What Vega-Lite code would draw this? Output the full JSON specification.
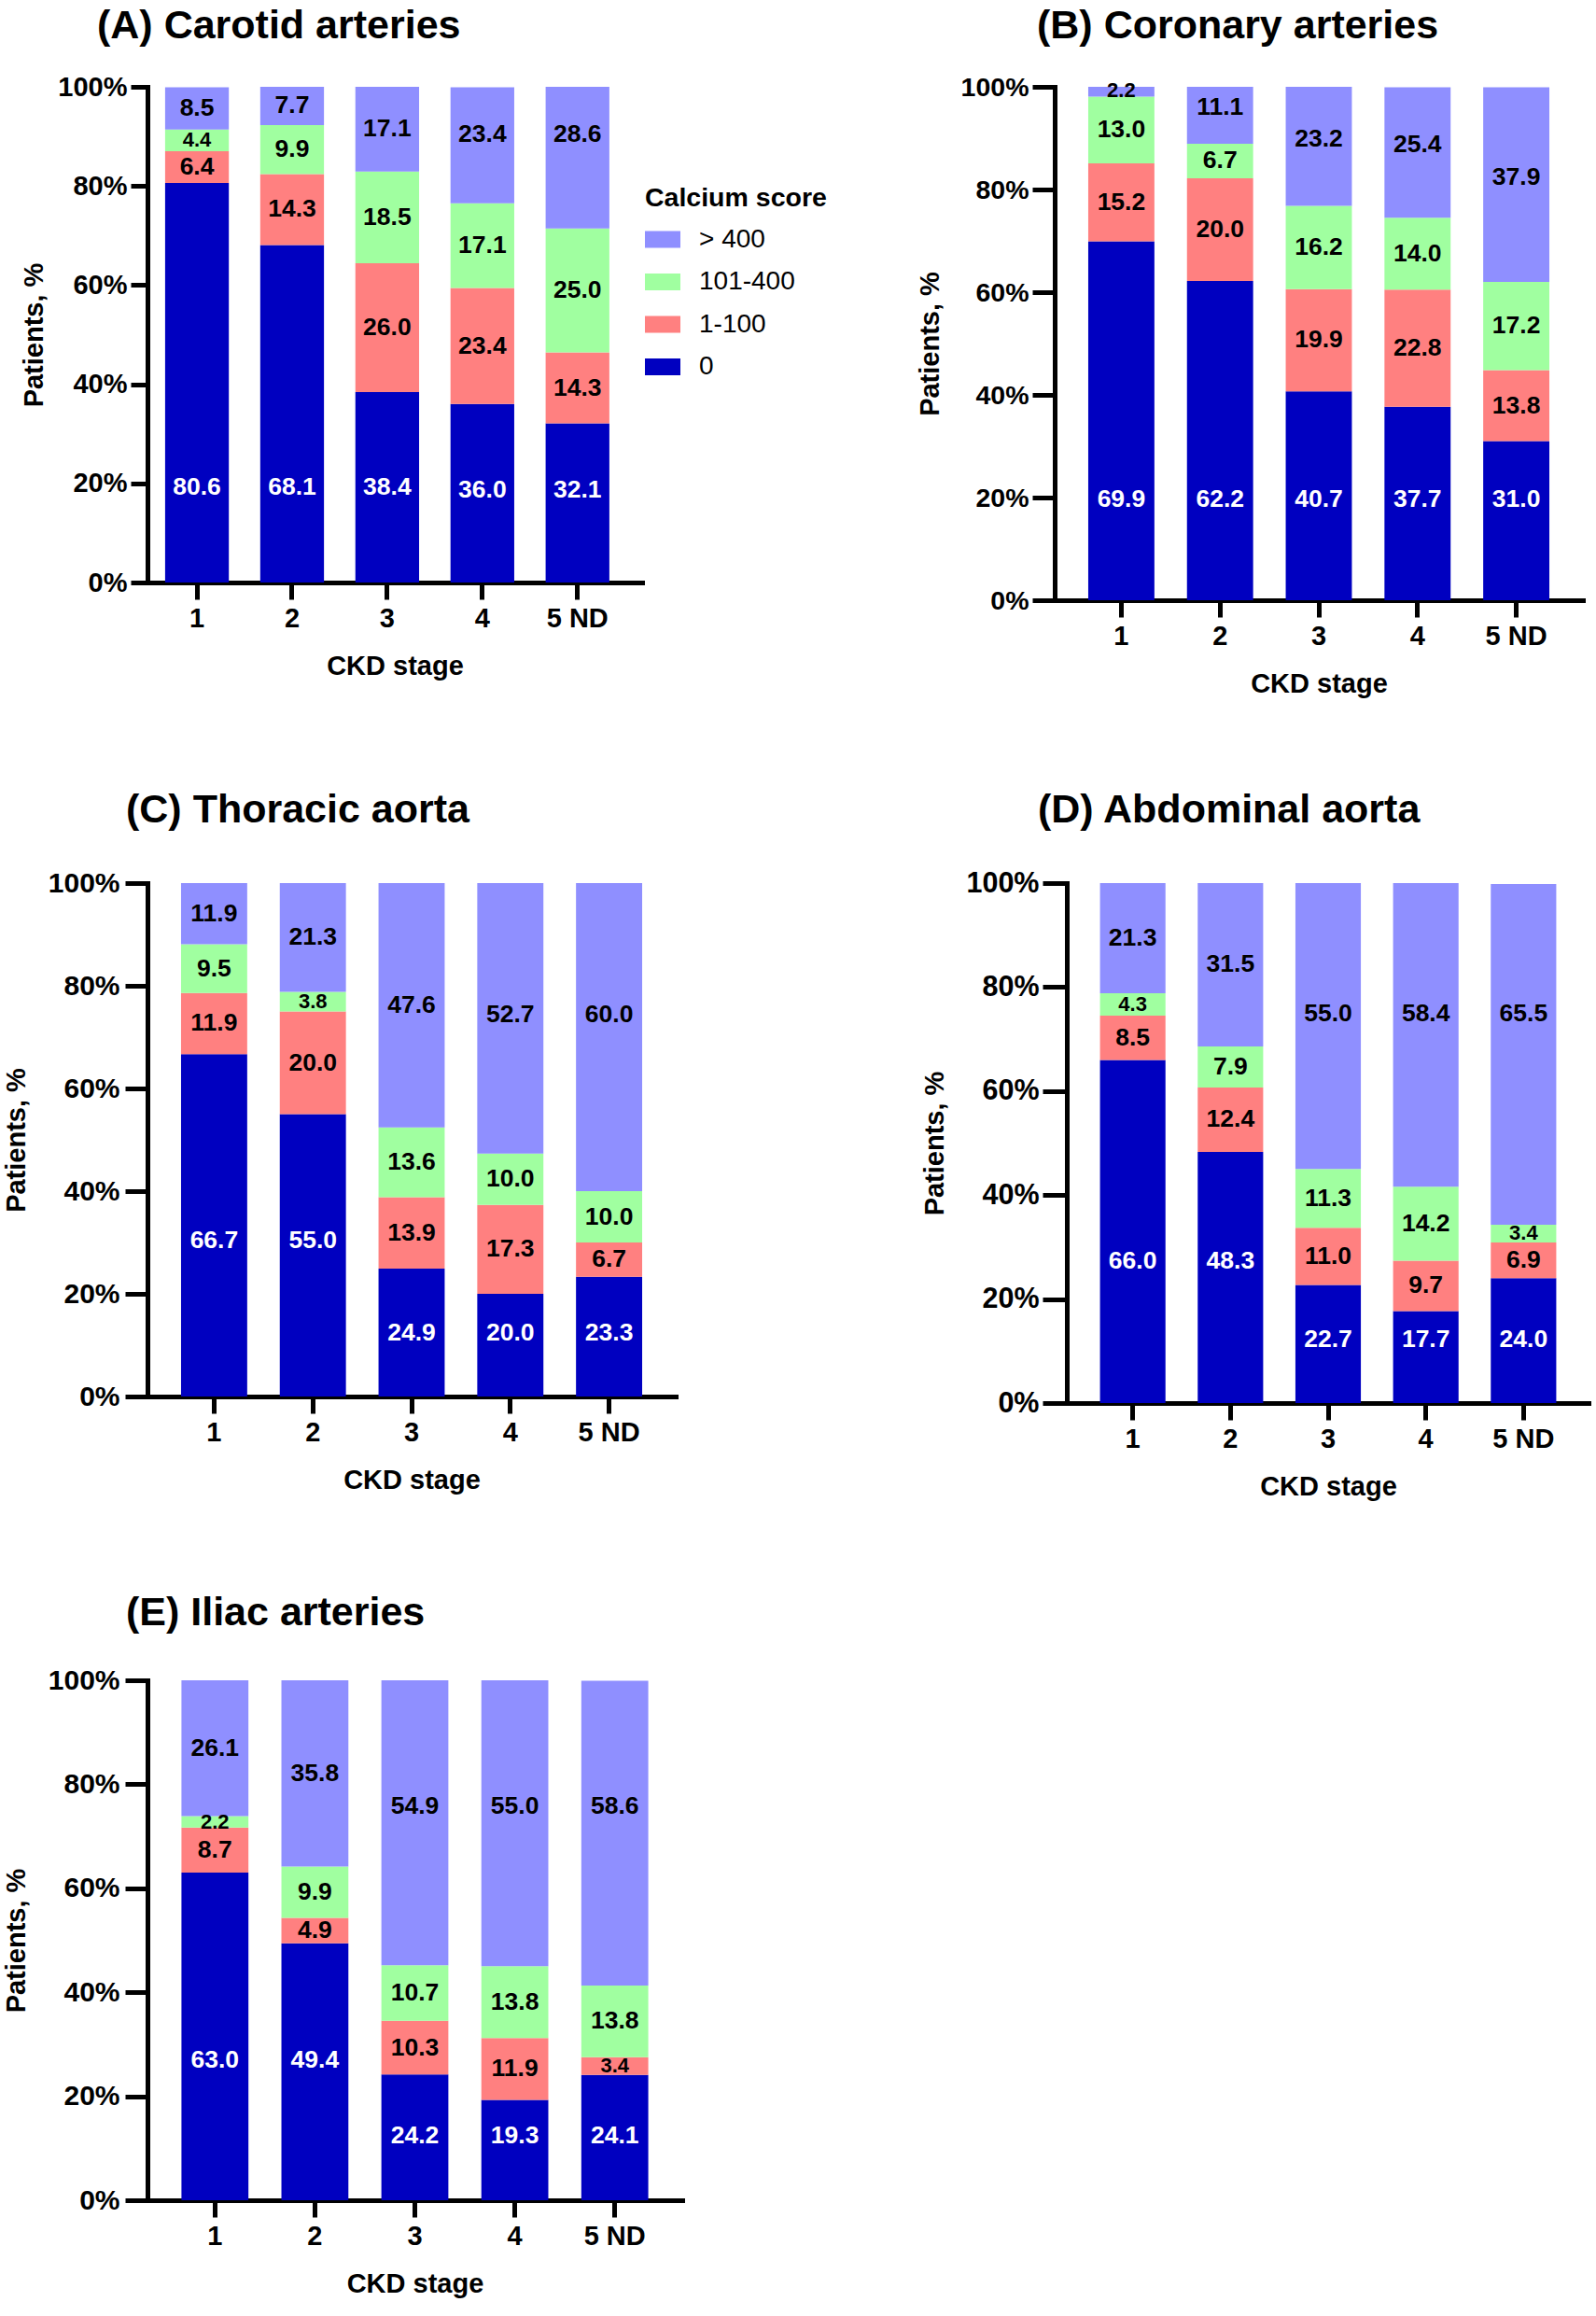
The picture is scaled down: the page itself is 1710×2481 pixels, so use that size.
{
  "$schema": "https://vega.github.io/schema/vega-lite/v6.json",
  "background": "white",
  "padding": {"left": 3, "top": 7, "right": 2, "bottom": 2},
  "datasets": {
    "cac": [
      {"panel": "A", "stage": "1", "score": "0", "value": 80.6},
      {"panel": "A", "stage": "1", "score": "1-100", "value": 6.4},
      {"panel": "A", "stage": "1", "score": "101-400", "value": 4.4},
      {"panel": "A", "stage": "1", "score": "> 400", "value": 8.5},
      {"panel": "A", "stage": "2", "score": "0", "value": 68.1},
      {"panel": "A", "stage": "2", "score": "1-100", "value": 14.3},
      {"panel": "A", "stage": "2", "score": "101-400", "value": 9.9},
      {"panel": "A", "stage": "2", "score": "> 400", "value": 7.7},
      {"panel": "A", "stage": "3", "score": "0", "value": 38.4},
      {"panel": "A", "stage": "3", "score": "1-100", "value": 26.0},
      {"panel": "A", "stage": "3", "score": "101-400", "value": 18.5},
      {"panel": "A", "stage": "3", "score": "> 400", "value": 17.1},
      {"panel": "A", "stage": "4", "score": "0", "value": 36.0},
      {"panel": "A", "stage": "4", "score": "1-100", "value": 23.4},
      {"panel": "A", "stage": "4", "score": "101-400", "value": 17.1},
      {"panel": "A", "stage": "4", "score": "> 400", "value": 23.4},
      {"panel": "A", "stage": "5 ND", "score": "0", "value": 32.1},
      {"panel": "A", "stage": "5 ND", "score": "1-100", "value": 14.3},
      {"panel": "A", "stage": "5 ND", "score": "101-400", "value": 25.0},
      {"panel": "A", "stage": "5 ND", "score": "> 400", "value": 28.6},

      {"panel": "B", "stage": "1", "score": "0", "value": 69.9},
      {"panel": "B", "stage": "1", "score": "1-100", "value": 15.2},
      {"panel": "B", "stage": "1", "score": "101-400", "value": 13.0},
      {"panel": "B", "stage": "1", "score": "> 400", "value": 2.2},
      {"panel": "B", "stage": "2", "score": "0", "value": 62.2},
      {"panel": "B", "stage": "2", "score": "1-100", "value": 20.0},
      {"panel": "B", "stage": "2", "score": "101-400", "value": 6.7},
      {"panel": "B", "stage": "2", "score": "> 400", "value": 11.1},
      {"panel": "B", "stage": "3", "score": "0", "value": 40.7},
      {"panel": "B", "stage": "3", "score": "1-100", "value": 19.9},
      {"panel": "B", "stage": "3", "score": "101-400", "value": 16.2},
      {"panel": "B", "stage": "3", "score": "> 400", "value": 23.2},
      {"panel": "B", "stage": "4", "score": "0", "value": 37.7},
      {"panel": "B", "stage": "4", "score": "1-100", "value": 22.8},
      {"panel": "B", "stage": "4", "score": "101-400", "value": 14.0},
      {"panel": "B", "stage": "4", "score": "> 400", "value": 25.4},
      {"panel": "B", "stage": "5 ND", "score": "0", "value": 31.0},
      {"panel": "B", "stage": "5 ND", "score": "1-100", "value": 13.8},
      {"panel": "B", "stage": "5 ND", "score": "101-400", "value": 17.2},
      {"panel": "B", "stage": "5 ND", "score": "> 400", "value": 37.9},

      {"panel": "C", "stage": "1", "score": "0", "value": 66.7},
      {"panel": "C", "stage": "1", "score": "1-100", "value": 11.9},
      {"panel": "C", "stage": "1", "score": "101-400", "value": 9.5},
      {"panel": "C", "stage": "1", "score": "> 400", "value": 11.9},
      {"panel": "C", "stage": "2", "score": "0", "value": 55.0},
      {"panel": "C", "stage": "2", "score": "1-100", "value": 20.0},
      {"panel": "C", "stage": "2", "score": "101-400", "value": 3.8},
      {"panel": "C", "stage": "2", "score": "> 400", "value": 21.3},
      {"panel": "C", "stage": "3", "score": "0", "value": 24.9},
      {"panel": "C", "stage": "3", "score": "1-100", "value": 13.9},
      {"panel": "C", "stage": "3", "score": "101-400", "value": 13.6},
      {"panel": "C", "stage": "3", "score": "> 400", "value": 47.6},
      {"panel": "C", "stage": "4", "score": "0", "value": 20.0},
      {"panel": "C", "stage": "4", "score": "1-100", "value": 17.3},
      {"panel": "C", "stage": "4", "score": "101-400", "value": 10.0},
      {"panel": "C", "stage": "4", "score": "> 400", "value": 52.7},
      {"panel": "C", "stage": "5 ND", "score": "0", "value": 23.3},
      {"panel": "C", "stage": "5 ND", "score": "1-100", "value": 6.7},
      {"panel": "C", "stage": "5 ND", "score": "101-400", "value": 10.0},
      {"panel": "C", "stage": "5 ND", "score": "> 400", "value": 60.0},

      {"panel": "D", "stage": "1", "score": "0", "value": 66.0},
      {"panel": "D", "stage": "1", "score": "1-100", "value": 8.5},
      {"panel": "D", "stage": "1", "score": "101-400", "value": 4.3},
      {"panel": "D", "stage": "1", "score": "> 400", "value": 21.3},
      {"panel": "D", "stage": "2", "score": "0", "value": 48.3},
      {"panel": "D", "stage": "2", "score": "1-100", "value": 12.4},
      {"panel": "D", "stage": "2", "score": "101-400", "value": 7.9},
      {"panel": "D", "stage": "2", "score": "> 400", "value": 31.5},
      {"panel": "D", "stage": "3", "score": "0", "value": 22.7},
      {"panel": "D", "stage": "3", "score": "1-100", "value": 11.0},
      {"panel": "D", "stage": "3", "score": "101-400", "value": 11.3},
      {"panel": "D", "stage": "3", "score": "> 400", "value": 55.0},
      {"panel": "D", "stage": "4", "score": "0", "value": 17.7},
      {"panel": "D", "stage": "4", "score": "1-100", "value": 9.7},
      {"panel": "D", "stage": "4", "score": "101-400", "value": 14.2},
      {"panel": "D", "stage": "4", "score": "> 400", "value": 58.4},
      {"panel": "D", "stage": "5 ND", "score": "0", "value": 24.0},
      {"panel": "D", "stage": "5 ND", "score": "1-100", "value": 6.9},
      {"panel": "D", "stage": "5 ND", "score": "101-400", "value": 3.4},
      {"panel": "D", "stage": "5 ND", "score": "> 400", "value": 65.5},

      {"panel": "E", "stage": "1", "score": "0", "value": 63.0},
      {"panel": "E", "stage": "1", "score": "1-100", "value": 8.7},
      {"panel": "E", "stage": "1", "score": "101-400", "value": 2.2},
      {"panel": "E", "stage": "1", "score": "> 400", "value": 26.1},
      {"panel": "E", "stage": "2", "score": "0", "value": 49.4},
      {"panel": "E", "stage": "2", "score": "1-100", "value": 4.9},
      {"panel": "E", "stage": "2", "score": "101-400", "value": 9.9},
      {"panel": "E", "stage": "2", "score": "> 400", "value": 35.8},
      {"panel": "E", "stage": "3", "score": "0", "value": 24.2},
      {"panel": "E", "stage": "3", "score": "1-100", "value": 10.3},
      {"panel": "E", "stage": "3", "score": "101-400", "value": 10.7},
      {"panel": "E", "stage": "3", "score": "> 400", "value": 54.9},
      {"panel": "E", "stage": "4", "score": "0", "value": 19.3},
      {"panel": "E", "stage": "4", "score": "1-100", "value": 11.9},
      {"panel": "E", "stage": "4", "score": "101-400", "value": 13.8},
      {"panel": "E", "stage": "4", "score": "> 400", "value": 55.0},
      {"panel": "E", "stage": "5 ND", "score": "0", "value": 24.1},
      {"panel": "E", "stage": "5 ND", "score": "1-100", "value": 3.4},
      {"panel": "E", "stage": "5 ND", "score": "101-400", "value": 13.8},
      {"panel": "E", "stage": "5 ND", "score": "> 400", "value": 58.6}
    ]
  },
  "spacing": 100,
  "align": "none",
  "resolve": {"scale": {"color": "independent"}, "legend": {"color": "independent"}},
  "vconcat": [
    {
      "spacing": 96,
      "resolve": {"scale": {"color": "independent"}, "legend": {"color": "independent"}},
      "hconcat": [
        {
          "width": 530, "height": 531,
          "data": {"name": "cac"},
          "title": {"text": "(A) Carotid arteries", "dx": -54, "offset": 29},
          "transform": [
            {"filter": "datum.panel == 'A'"},
            {"stack": "value", "groupby": ["stage"], "sort": [{"field": "score", "order": "ascending"}], "as": ["v0", "v1"]},
            {"calculate": "(datum.v0 + datum.v1) / 2", "as": "m"},
            {"calculate": "datum.score == '0' ? (datum.v1 >= 40 ? 19.2 : clamp(datum.m, 18.6, 19.2)) : datum.score == '> 400' ? max(datum.m, 90.4) : datum.m", "as": "ly"}
          ],
          "encoding": {
            "x": {"field": "stage", "type": "nominal", "sort": ["1", "2", "3", "4", "5 ND"], "scale": {"paddingInner": 0.33, "paddingOuter": 0.265, "align": 0.35}, "axis": {"title": "CKD stage"}}
          },
          "layer": [
            {
              "mark": {"type": "bar", "clip": true},
              "encoding": {
                "y": {"field": "v0", "type": "quantitative", "scale": {"domain": [0, 100]}, "axis": {"values": [0, 20, 40, 60, 80, 100], "labelExpr": "datum.value + '%'", "title": "Patients, %", "tickSize": 18, "labelPadding": 4, "titlePadding": 10, "labelFontSize": 29}},
                "y2": {"field": "v1"},
                "color": {"field": "score", "type": "nominal",
                  "scale": {"domain": ["> 400", "101-400", "1-100", "0"], "range": ["#8F8FFF", "#A0FFA0", "#FF8080", "#0000C0"]},
                  "legend": {"orient": "none", "legendX": 533, "legendY": 105, "title": "Calcium score", "titleLimit": 600, "titleFontSize": 28.5, "titleFont": "Liberation Sans", "titleFontWeight": "bold", "titleColor": "black", "titlePadding": 11, "labelFontSize": 28, "labelLimit": 400, "labelFont": "Liberation Sans", "labelColor": "black", "labelFontWeight": "normal", "symbolType": "M-1,-0.47H1V0.47H-1Z", "symbolSize": 1444, "symbolStrokeWidth": 0, "symbolOpacity": 1, "labelOffset": 20, "rowPadding": 12.5, "padding": 0}}
              }
            },
            {
              "mark": {"type": "text", "fontWeight": "bold", "font": "Liberation Sans", "baseline": "middle", "align": "center"},
              "encoding": {
                "y": {"field": "ly", "type": "quantitative"},
                "text": {"field": "value", "type": "quantitative", "format": ".1f"},
                "color": {"condition": {"test": "datum.score == '0'", "value": "white"}, "value": "black"},
                "size": {"condition": {"test": "datum.value < 4.5", "value": 22}, "value": 26.5}
              }
            }
          ]
        },
        {
          "width": 566, "height": 550,
          "data": {"name": "cac"},
          "title": {"text": "(B) Coronary arteries", "dx": -19, "offset": 29},
          "transform": [
            {"filter": "datum.panel == 'B'"},
            {"stack": "value", "groupby": ["stage"], "sort": [{"field": "score", "order": "ascending"}], "as": ["v0", "v1"]},
            {"calculate": "(datum.v0 + datum.v1) / 2", "as": "m"},
            {"calculate": "datum.score == '0' ? 19.7 : datum.score == '> 400' ? min(datum.m + 1.5, 99.2) : datum.m", "as": "ly"}
          ],
          "encoding": {
            "x": {"field": "stage", "type": "nominal", "sort": ["1", "2", "3", "4", "5 ND"], "scale": {"paddingInner": 0.33, "paddingOuter": 0.34}, "axis": {"title": "CKD stage"}}
          },
          "layer": [
            {
              "mark": {"type": "bar", "clip": true},
              "encoding": {
                "y": {"field": "v0", "type": "quantitative", "scale": {"domain": [0, 100]}, "axis": {"values": [0, 20, 40, 60, 80, 100], "labelExpr": "datum.value + '%'", "title": "Patients, %", "tickSize": 24, "labelPadding": 4, "titlePadding": 18, "labelFontSize": 28.5}},
                "y2": {"field": "v1"},
                "color": {"field": "score", "type": "nominal",
                  "scale": {"domain": ["> 400", "101-400", "1-100", "0"], "range": ["#8F8FFF", "#A0FFA0", "#FF8080", "#0000C0"]},
                  "legend": null}
              }
            },
            {
              "mark": {"type": "text", "fontWeight": "bold", "font": "Liberation Sans", "baseline": "middle", "align": "center"},
              "encoding": {
                "y": {"field": "ly", "type": "quantitative"},
                "text": {"field": "value", "type": "quantitative", "format": ".1f"},
                "color": {"condition": {"test": "datum.score == '0'", "value": "white"}, "value": "black"},
                "size": {"condition": {"test": "datum.value < 4.5", "value": 22}, "value": 26.5}
              }
            }
          ]
        }
      ]
    },
    {
      "spacing": 263,
      "resolve": {"scale": {"color": "independent"}, "legend": {"color": "independent"}},
      "hconcat": [
        {
          "width": 566, "height": 550,
          "data": {"name": "cac"},
          "title": {"text": "(C) Thoracic aorta", "dx": -23},
          "transform": [
            {"filter": "datum.panel == 'C'"},
            {"stack": "value", "groupby": ["stage"], "sort": [{"field": "score", "order": "ascending"}], "as": ["v0", "v1"]},
            {"calculate": "(datum.v0 + datum.v1) / 2", "as": "m"},
            {"calculate": "datum.score == '0' ? (datum.v1 >= 40 ? 30.4 : clamp(datum.m, 12.3, 30.4)) : datum.score == '> 400' ? max(datum.m, 74.3) : datum.m", "as": "ly"}
          ],
          "encoding": {
            "x": {"field": "stage", "type": "nominal", "sort": ["1", "2", "3", "4", "5 ND"], "scale": {"paddingInner": 0.33, "paddingOuter": 0.34}, "axis": {"title": "CKD stage"}}
          },
          "layer": [
            {
              "mark": {"type": "bar", "clip": true},
              "encoding": {
                "y": {"field": "v0", "type": "quantitative", "scale": {"domain": [0, 100]}, "axis": {"values": [0, 20, 40, 60, 80, 100], "labelExpr": "datum.value + '%'", "title": "Patients, %", "tickSize": 24, "labelPadding": 6, "titlePadding": 19, "labelFontSize": 30}},
                "y2": {"field": "v1"},
                "color": {"field": "score", "type": "nominal",
                  "scale": {"domain": ["> 400", "101-400", "1-100", "0"], "range": ["#8F8FFF", "#A0FFA0", "#FF8080", "#0000C0"]},
                  "legend": null}
              }
            },
            {
              "mark": {"type": "text", "fontWeight": "bold", "font": "Liberation Sans", "baseline": "middle", "align": "center"},
              "encoding": {
                "y": {"field": "ly", "type": "quantitative"},
                "text": {"field": "value", "type": "quantitative", "format": ".1f"},
                "color": {"condition": {"test": "datum.score == '0'", "value": "white"}, "value": "black"},
                "size": {"condition": {"test": "datum.value < 4.5", "value": 22}, "value": 26.5}
              }
            }
          ]
        },
        {
          "width": 560, "height": 557,
          "data": {"name": "cac"},
          "title": {"text": "(D) Abdominal aorta", "dx": -31},
          "transform": [
            {"filter": "datum.panel == 'D'"},
            {"stack": "value", "groupby": ["stage"], "sort": [{"field": "score", "order": "ascending"}], "as": ["v0", "v1"]},
            {"calculate": "(datum.v0 + datum.v1) / 2", "as": "m"},
            {"calculate": "datum.score == '0' ? (datum.v1 >= 40 ? 27.2 : clamp(datum.m, 12.2, 27.2)) : datum.score == '> 400' ? max(datum.m, 74.9) : datum.m", "as": "ly"}
          ],
          "encoding": {
            "x": {"field": "stage", "type": "nominal", "sort": ["1", "2", "3", "4", "5 ND"], "scale": {"paddingInner": 0.33, "paddingOuter": 0.34}, "axis": {"title": "CKD stage"}}
          },
          "layer": [
            {
              "mark": {"type": "bar", "clip": true},
              "encoding": {
                "y": {"field": "v0", "type": "quantitative", "scale": {"domain": [0, 100]}, "axis": {"values": [0, 20, 40, 60, 80, 100], "labelExpr": "datum.value + '%'", "title": "Patients, %", "tickSize": 26, "labelPadding": 4, "titlePadding": 18, "labelFontSize": 30.5}},
                "y2": {"field": "v1"},
                "color": {"field": "score", "type": "nominal",
                  "scale": {"domain": ["> 400", "101-400", "1-100", "0"], "range": ["#8F8FFF", "#A0FFA0", "#FF8080", "#0000C0"]},
                  "legend": null}
              }
            },
            {
              "mark": {"type": "text", "fontWeight": "bold", "font": "Liberation Sans", "baseline": "middle", "align": "center"},
              "encoding": {
                "y": {"field": "ly", "type": "quantitative"},
                "text": {"field": "value", "type": "quantitative", "format": ".1f"},
                "color": {"condition": {"test": "datum.score == '0'", "value": "white"}, "value": "black"},
                "size": {"condition": {"test": "datum.value < 4.5", "value": 22}, "value": 26.5}
              }
            }
          ]
        }
      ]
    },
    {
      "width": 573, "height": 557,
      "data": {"name": "cac"},
      "title": {"text": "(E) Iliac arteries", "dx": -23, "offset": 35},
      "transform": [
        {"filter": "datum.panel == 'E'"},
        {"stack": "value", "groupby": ["stage"], "sort": [{"field": "score", "order": "ascending"}], "as": ["v0", "v1"]},
        {"calculate": "(datum.v0 + datum.v1) / 2", "as": "m"},
        {"calculate": "datum.score == '0' ? (datum.v1 >= 40 ? 27.0 : clamp(datum.m, 12.4, 27.0)) : datum.score == '> 400' ? max(datum.m, 75.7) : datum.m", "as": "ly"}
      ],
      "encoding": {
        "x": {"field": "stage", "type": "nominal", "sort": ["1", "2", "3", "4", "5 ND"], "scale": {"paddingInner": 0.33, "paddingOuter": 0.34}, "axis": {"title": "CKD stage"}}
      },
      "layer": [
        {
          "mark": {"type": "bar", "clip": true},
          "encoding": {
            "y": {"field": "v0", "type": "quantitative", "scale": {"domain": [0, 100]}, "axis": {"values": [0, 20, 40, 60, 80, 100], "labelExpr": "datum.value + '%'", "title": "Patients, %", "tickSize": 24, "labelPadding": 6, "titlePadding": 19, "labelFontSize": 30}},
            "y2": {"field": "v1"},
            "color": {"field": "score", "type": "nominal",
              "scale": {"domain": ["> 400", "101-400", "1-100", "0"], "range": ["#8F8FFF", "#A0FFA0", "#FF8080", "#0000C0"]},
              "legend": null}
          }
        },
        {
          "mark": {"type": "text", "fontWeight": "bold", "font": "Liberation Sans", "baseline": "middle", "align": "center"},
          "encoding": {
            "y": {"field": "ly", "type": "quantitative"},
            "text": {"field": "value", "type": "quantitative", "format": ".1f"},
            "color": {"condition": {"test": "datum.score == '0'", "value": "white"}, "value": "black"},
            "size": {"condition": {"test": "datum.value < 4.5", "value": 22}, "value": 26.5}
          }
        }
      ]
    }
  ],
  "config": {
    "font": "Liberation Sans",
    "view": {"stroke": null},
    "axis": {"grid": false, "domainColor": "black", "domainWidth": 5, "domainCap": "square", "tickColor": "black", "tickWidth": 5, "labelFont": "Liberation Sans", "labelFontWeight": "bold", "labelFontSize": 29, "labelColor": "black", "titleFont": "Liberation Sans", "titleFontWeight": "bold", "titleFontSize": 29, "titleColor": "black"},
    "axisY": {"tickSize": 22, "labelPadding": 5, "titlePadding": 16},
    "axisX": {"tickSize": 18, "labelPadding": 6, "titlePadding": 22, "labelAngle": 0},
    "title": {"font": "Liberation Sans", "fontWeight": "bold", "fontSize": 43, "color": "black", "anchor": "start", "frame": "group", "offset": 41}
  }
}
